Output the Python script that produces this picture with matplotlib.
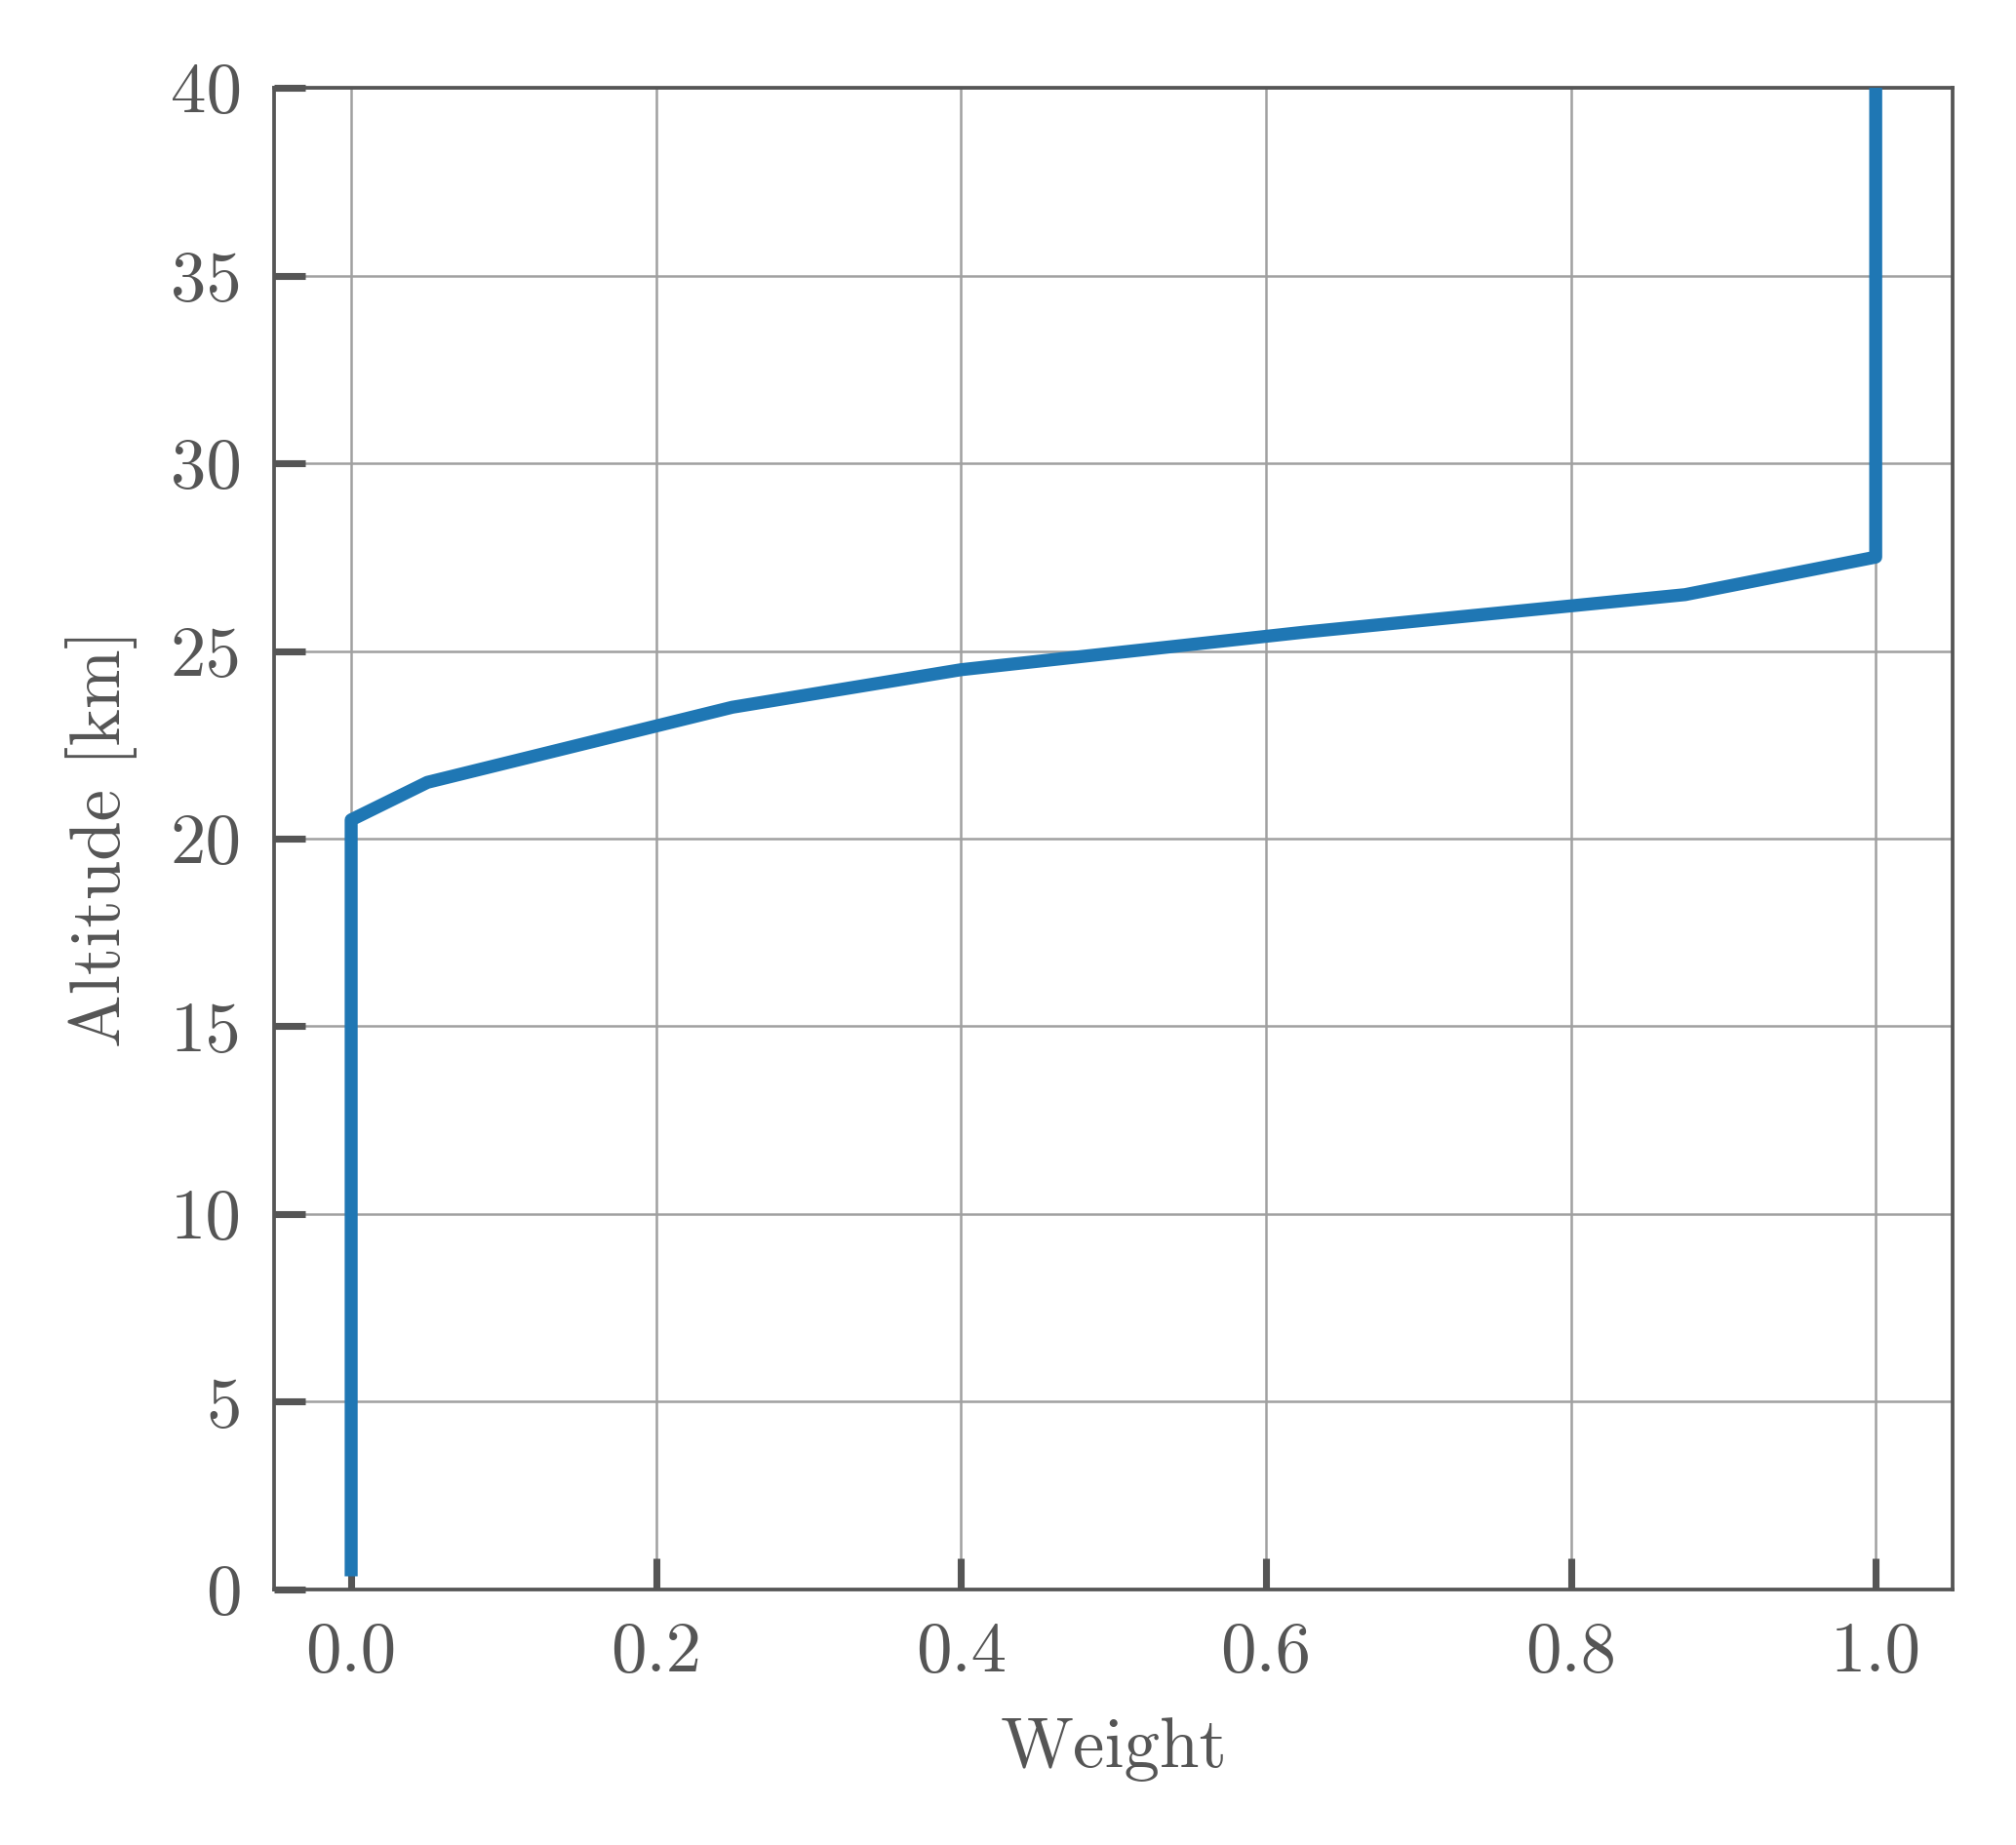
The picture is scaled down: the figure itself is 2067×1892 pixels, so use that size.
import matplotlib
matplotlib.use("Agg")
import matplotlib.pyplot as plt

# weight profile vs altitude
weight = [0.0, 0.0, 0.05, 0.15, 0.25, 0.4, 0.625, 0.875, 1.0, 1.0]
altitude = [0.35, 20.5, 21.5, 22.5, 23.5, 24.5, 25.5, 26.5, 27.5, 40.0]

xticks = [0.0, 0.2, 0.4, 0.6, 0.8, 1.0]
yticks = [0, 5, 10, 15, 20, 25, 30, 35, 40]

GREY = "#555555"
plt.rcParams.update({
    "font.family": "serif",
    "font.serif": ["cmr10"],
    "axes.formatter.use_mathtext": True,
    "font.size": 17.5,
    "text.color": GREY,
    "axes.labelcolor": GREY,
    "xtick.color": GREY,
    "ytick.color": GREY,
    "axes.edgecolor": GREY,
})

fig = plt.figure(figsize=(2067 / 300, 1892 / 300), dpi=300)
ax = fig.add_axes([0.136, 0.1385, 0.8326, 0.8139])

ax.plot(weight, altitude, color="#1f77b4", lw=3.2,
        solid_joinstyle="round", solid_capstyle="butt", zorder=3)

ax.set_xlim(-0.0505, 1.0505)
ax.set_ylim(0, 40)
ax.set_xticks(xticks)
ax.set_yticks(yticks)
ax.set_xticklabels([f"{v:.1f}" for v in xticks])
ax.set_yticklabels([str(v) for v in yticks])

ax.grid(True, color="#a0a0a0", lw=0.6, zorder=0)
ax.tick_params(direction="in", length=7.7, width=1.7, pad=8, labelsize=17.5)
for s in ax.spines.values():
    s.set_linewidth(0.9)

ax.set_xlabel("Weight", fontsize=17.5, labelpad=8)
ax.set_ylabel("Altitude [km]", fontsize=17.5, labelpad=8)

fig.savefig("out.png", dpi=300)
